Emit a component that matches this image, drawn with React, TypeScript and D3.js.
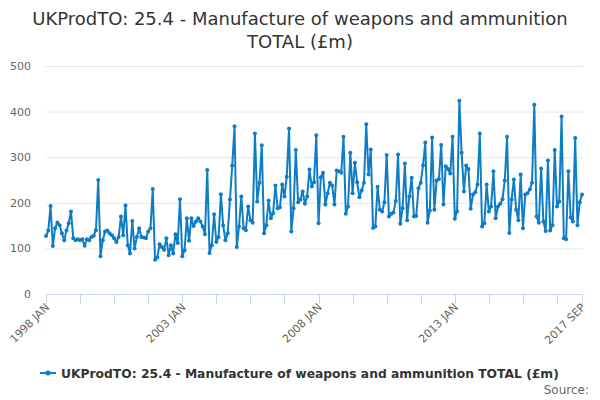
import * as d3 from "d3";

// monthly values, 1998 JAN .. 2017 SEP (£m)
const values1998_1999 = [127, 139, 193, 105, 144, 157, 151, 133, 118, 139, 155, 181, 122, 118, 120, 118, 120, 106, 120, 118, 125, 128, 140, 250];
const values2000_2001 = [83, 118, 137, 139, 133, 129, 122, 114, 125, 170, 129, 194, 107, 89, 160, 100, 125, 144, 125, 124, 122, 137, 144, 230];
const values2002_2003 = [75, 80, 109, 103, 97, 122, 85, 107, 89, 131, 112, 208, 83, 96, 166, 117, 166, 149, 159, 166, 159, 148, 131, 272];
const values2004_2005 = [90, 107, 175, 114, 125, 219, 150, 118, 133, 207, 282, 368, 103, 148, 214, 144, 140, 192, 162, 156, 352, 203, 244, 326];
const values2006_2007 = [133, 151, 205, 166, 177, 238, 188, 190, 240, 214, 257, 363, 137, 188, 316, 201, 207, 225, 198, 214, 273, 236, 245, 348];
const values2008_2009 = [155, 256, 266, 196, 221, 244, 238, 196, 271, 269, 266, 345, 176, 192, 310, 221, 288, 245, 212, 227, 244, 372, 262, 317];
const values2010_2011 = [145, 148, 235, 185, 181, 201, 305, 170, 176, 179, 204, 306, 154, 188, 286, 162, 214, 255, 170, 171, 232, 244, 282, 332];
const values2012_2013 = [156, 183, 343, 185, 249, 252, 327, 196, 280, 274, 264, 345, 165, 181, 424, 310, 225, 282, 274, 187, 218, 223, 240, 352];
const values2014_2015 = [148, 155, 240, 181, 192, 269, 166, 192, 198, 208, 249, 345, 134, 207, 251, 185, 162, 262, 144, 218, 221, 229, 244, 415];
const values2016_2017 = [170, 156, 275, 159, 138, 293, 139, 151, 316, 192, 203, 389, 122, 120, 269, 168, 159, 342, 151, 201, 218];

const values = [
  ...values1998_1999,
  ...values2000_2001,
  ...values2002_2003,
  ...values2004_2005,
  ...values2006_2007,
  ...values2008_2009,
  ...values2010_2011,
  ...values2012_2013,
  ...values2014_2015,
  ...values2016_2017,
];

const yTicks = [0, 100, 200, 300, 400, 500];
const xLabels = ["1998 JAN", "2003 JAN", "2008 JAN", "2013 JAN", "2017 SEP"];
const xLabelIndex = [0, 60, 120, 180, 236];

const titleLines = ["UKProdTO: 25.4 - Manufacture of weapons and ammunition", "TOTAL (£m)"];
const seriesName = "UKProdTO: 25.4 - Manufacture of weapons and ammunition TOTAL (£m)";

const color = "#0f7cc6";
const font = "DejaVu Sans, Verdana, sans-serif";

export default function App() {
  const width = 600;
  const height = 400;
  const margin = { top: 66, right: 17, bottom: 106, left: 46 };

  const n = values.length;
  const x = d3
    .scaleLinear()
    .domain([0, n - 1])
    .range([margin.left, 582]);
  const y = d3
    .scaleLinear()
    .domain([0, 500])
    .range([height - margin.bottom, margin.top]);

  const line = d3
    .line<number>()
    .x((_, i) => x(i))
    .y((d) => y(d));

  // minor ticks every 15 months, plus the last month
  const tickIdx = d3.range(0, n, 15).concat([n - 1]);

  const plotBottom = y(0);

  return (
    <svg
      width={width}
      height={height}
      style={{ position: "absolute", left: 0, top: 0, fontFamily: font }}
    >
      <rect width={width} height={height} fill="#ffffff" />

      {/* Title */}
      {titleLines.map((t, i) => (
        <text key={t} x={width / 2} y={25 + i * 23} textAnchor="middle" fontSize={18} fill="#333333">
          {t}
        </text>
      ))}

      {/* Grid + y labels */}
      {yTicks.map((t) => (
        <g key={t}>
          {t > 0 && (
            <line x1={margin.left} x2={583} y1={y(t) + 0.5} y2={y(t) + 0.5} stroke="#e6e6e6" strokeWidth={1} />
          )}
          <text x={31} y={y(t) + 4} textAnchor="end" fontSize={11} fill="#666666">
            {t}
          </text>
        </g>
      ))}

      {/* X axis */}
      <line x1={margin.left} x2={583} y1={plotBottom + 0.5} y2={plotBottom + 0.5} stroke="#ccd6eb" strokeWidth={1} />
      {tickIdx.map((i) => (
        <line
          key={i}
          x1={Math.round(x(i)) + 0.5}
          x2={Math.round(x(i)) + 0.5}
          y1={plotBottom}
          y2={plotBottom + 10}
          stroke="#ccd6eb"
          strokeWidth={1}
        />
      ))}
      {xLabels.map((lab, k) => {
        const lx = x(xLabelIndex[k]) + 4;
        const ly = plotBottom + 14;
        return (
          <text
            key={lab}
            x={lx}
            y={ly}
            textAnchor="end"
            fontSize={11}
            fill="#666666"
            transform={`rotate(-45 ${lx} ${ly})`}
          >
            {lab}
          </text>
        );
      })}

      {/* Series */}
      <path d={line(values) ?? ""} fill="none" stroke={color} strokeWidth={2} strokeLinejoin="round" />
      {values.map((v, i) => (
        <circle key={i} cx={x(i)} cy={y(v)} r={2} fill={color} />
      ))}

      {/* Legend */}
      <line x1={40} x2={56} y1={373} y2={373} stroke={color} strokeWidth={2} />
      <circle cx={48} cy={373} r={2.5} fill={color} />
      <text x={61} y={377.5} fontSize={12.3} fontWeight="bold" fill="#333333">
        {seriesName}
      </text>

      {/* Credits */}
      <text x={589} y={394} textAnchor="end" fontSize={12} fill="#666666">
        Source:
      </text>
    </svg>
  );
}
